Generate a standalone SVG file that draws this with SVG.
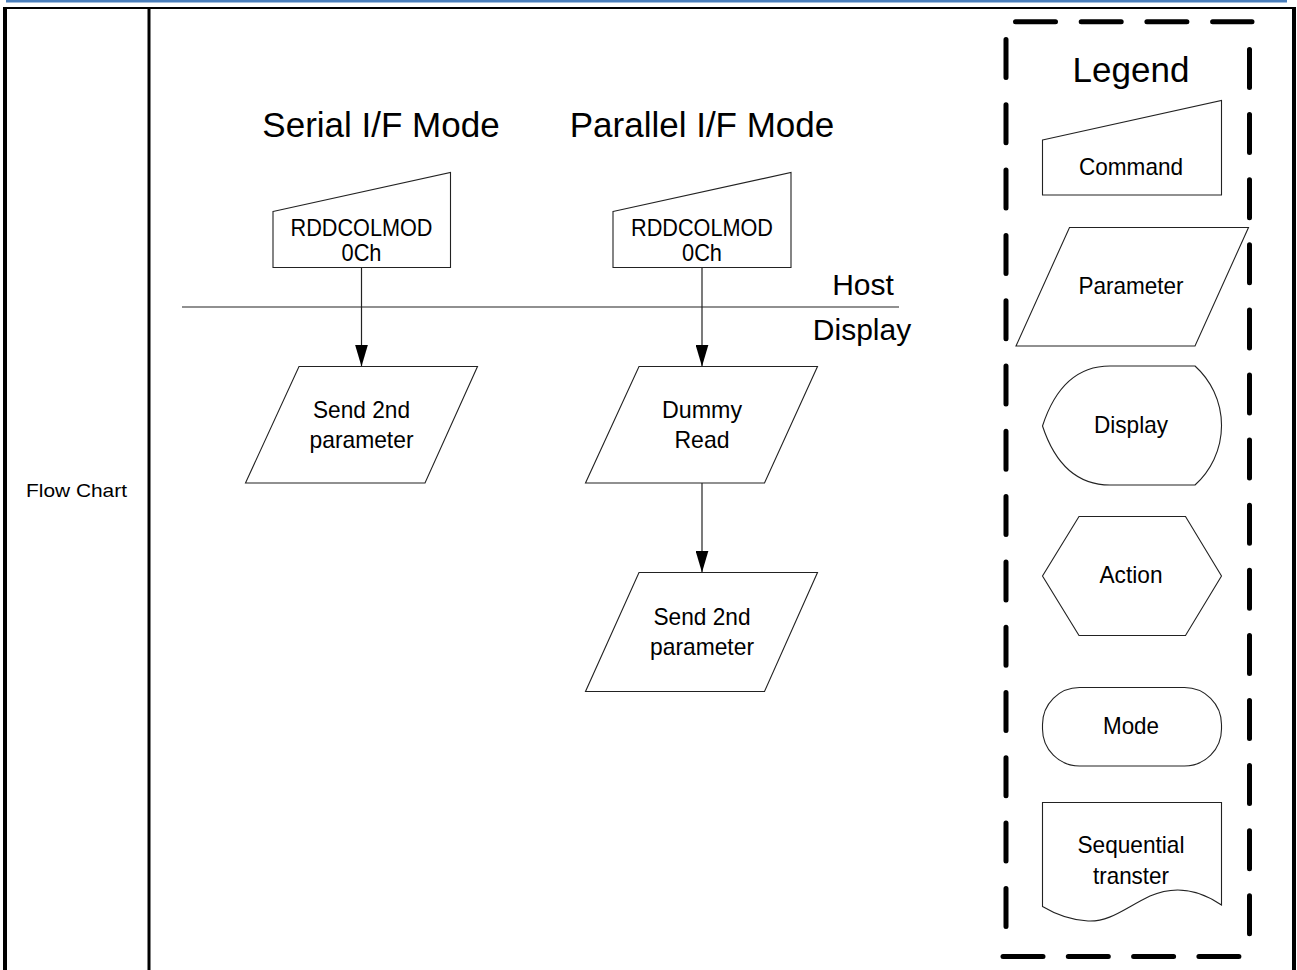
<svg xmlns="http://www.w3.org/2000/svg" width="1297" height="970" viewBox="0 0 1297 970">
<style>
text{font-family:"Liberation Sans",Arial,sans-serif;fill:#000;text-anchor:middle}
.shape{fill:#fff;stroke:#222;stroke-width:1.1}
.conn{stroke:#222;stroke-width:1.2;fill:none}
.t{font-size:24px}
.title{font-size:35px}
.hd{font-size:30px}
.dash{stroke:#000;stroke-width:5;stroke-linecap:round;fill:none}
</style>
<defs>
<marker id="arr" markerUnits="userSpaceOnUse" markerWidth="22" markerHeight="13" refX="22" refY="6.5" orient="auto" viewBox="0 0 22 13">
<path d="M0,0 L22,6.5 L0,13 Z" fill="#000"/>
</marker>
</defs>
<rect width="1297" height="970" fill="#fff"/>
<g id="frame">
<rect x="6" y="0" width="1281" height="2.5" fill="#4a7ebb"/>
<rect x="3" y="7" width="1293" height="2" fill="#000"/>
<rect x="3" y="7" width="4" height="963" fill="#000"/>
<rect x="1292" y="7" width="4" height="963" fill="#000"/>
<rect x="147.5" y="7" width="3" height="963" fill="#000"/>
<text x="76.5" y="497" style="font-size:19px" textLength="101" lengthAdjust="spacingAndGlyphs">Flow Chart</text>
</g>
<g id="headers">
<text class="title" x="381" y="137">Serial I/F Mode</text>
<text class="title" x="702" y="137">Parallel I/F Mode</text>
<line x1="182" y1="307" x2="899" y2="307" stroke="#222" stroke-width="1.2"/>
<text class="hd" x="863" y="295">Host</text>
<text class="hd" x="862" y="340">Display</text>
</g>
<g id="connectors">
<line class="conn" x1="361.5" y1="267" x2="361.5" y2="366.5" marker-end="url(#arr)"/>
<line class="conn" x1="702" y1="267" x2="702" y2="366.5" marker-end="url(#arr)"/>
<line class="conn" x1="702" y1="483" x2="702" y2="572.5" marker-end="url(#arr)"/>
</g>
<g id="serial-cmd">
<polygon class="shape" points="273,211.5 450.5,172.5 450.5,267.5 273,267.5"/>
<text class="t" x="361.5" y="236" textLength="142" lengthAdjust="spacingAndGlyphs">RDDCOLMOD</text>
<text class="t" x="361.5" y="261" textLength="40" lengthAdjust="spacingAndGlyphs">0Ch</text>
</g>
<g id="serial-param">
<polygon class="shape" points="299,366.5 477.5,366.5 425,483 245.5,483"/>
<text class="t" x="361.5" y="418" textLength="97" lengthAdjust="spacingAndGlyphs">Send 2nd</text>
<text class="t" x="361.5" y="448" textLength="104" lengthAdjust="spacingAndGlyphs">parameter</text>
</g>
<g id="parallel-cmd">
<polygon class="shape" points="613,211.5 791,172.5 791,267.5 613,267.5"/>
<text class="t" x="702" y="236" textLength="142" lengthAdjust="spacingAndGlyphs">RDDCOLMOD</text>
<text class="t" x="702" y="261" textLength="40" lengthAdjust="spacingAndGlyphs">0Ch</text>
</g>
<g id="parallel-dummy">
<polygon class="shape" points="639,366.5 817.5,366.5 764.5,483 585.5,483"/>
<text class="t" x="702" y="418" textLength="80" lengthAdjust="spacingAndGlyphs">Dummy</text>
<text class="t" x="702" y="448" textLength="55" lengthAdjust="spacingAndGlyphs">Read</text>
</g>
<g id="parallel-param">
<polygon class="shape" points="639,572.5 817.5,572.5 764.5,691.5 585.5,691.5"/>
<text class="t" x="702" y="625" textLength="97" lengthAdjust="spacingAndGlyphs">Send 2nd</text>
<text class="t" x="702" y="655" textLength="104" lengthAdjust="spacingAndGlyphs">parameter</text>
</g>
<g id="legend">
<line class="dash" x1="1015.5" y1="21.7" x2="1252" y2="21.7" stroke-dasharray="40 25.7"/>
<line class="dash" x1="1003" y1="956.5" x2="1244" y2="956.5" stroke-dasharray="40 25.3"/>
<line class="dash" x1="1006" y1="39.5" x2="1006" y2="930" stroke-dasharray="38 27.3"/>
<line class="dash" x1="1249.5" y1="49.5" x2="1249.5" y2="940" stroke-dasharray="38 27.1"/>
<text x="1131" y="82" style="font-size:35px">Legend</text>
</g>
<g id="legend-command">
<polygon class="shape" points="1042.5,140 1221.5,100.5 1221.5,195 1042.5,195"/>
<text class="t" x="1131" y="175" textLength="104" lengthAdjust="spacingAndGlyphs">Command</text>
</g>
<g id="legend-parameter">
<polygon class="shape" points="1069.5,227.5 1248.5,227.5 1195,346 1016,346"/>
<text class="t" x="1131" y="294" textLength="105" lengthAdjust="spacingAndGlyphs">Parameter</text>
</g>
<g id="legend-display">
<path class="shape" d="M1110,366 L1195,366 A80,80 0 0 1 1195,485 L1110,485 Q1062,485 1042.5,426 Q1062,366 1110,366 Z"/>
<text class="t" x="1131" y="433" textLength="74" lengthAdjust="spacingAndGlyphs">Display</text>
</g>
<g id="legend-action">
<polygon class="shape" points="1079,516.5 1185.5,516.5 1221.5,576 1185.5,635.5 1079,635.5 1042.5,576"/>
<text class="t" x="1131" y="583" textLength="63" lengthAdjust="spacingAndGlyphs">Action</text>
</g>
<g id="legend-mode">
<rect class="shape" x="1042.5" y="687.5" width="179" height="78.5" rx="37" ry="37"/>
<text class="t" x="1131" y="734" textLength="56" lengthAdjust="spacingAndGlyphs">Mode</text>
</g>
<g id="legend-sequential">
<path class="shape" d="M1042.5,802.5 L1221.5,802.5 L1221.5,905 C1200,890 1175,885 1150,896 C1125,908 1110,922 1088,921 C1070,920 1055,914 1042.5,906.5 Z"/>
<text class="t" x="1131" y="853" textLength="107" lengthAdjust="spacingAndGlyphs">Sequential</text>
<text class="t" x="1131" y="884" textLength="76" lengthAdjust="spacingAndGlyphs">transter</text>
</g>
</svg>
